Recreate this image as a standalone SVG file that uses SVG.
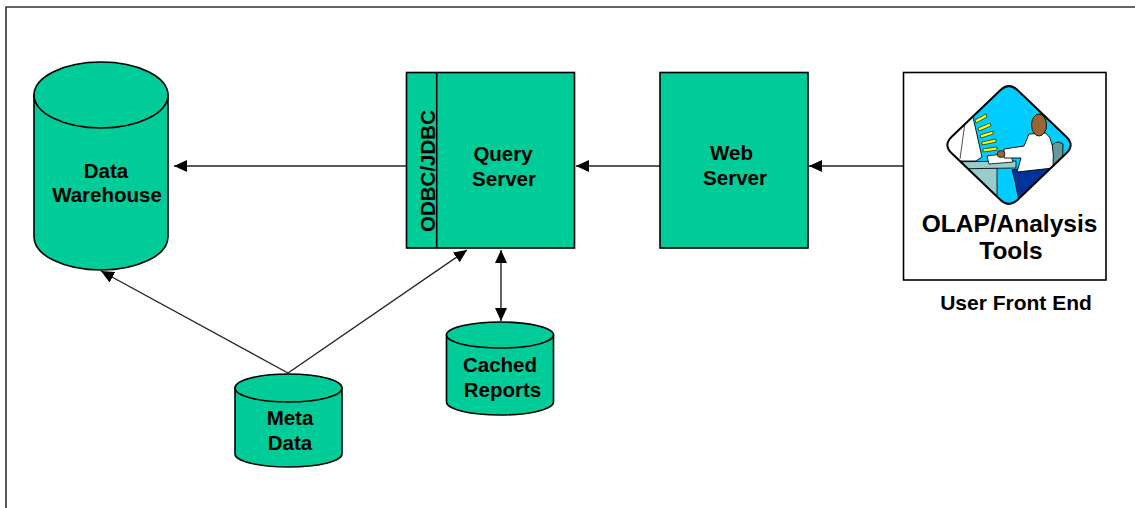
<svg xmlns="http://www.w3.org/2000/svg" width="1135" height="508" viewBox="0 0 1135 508">
  <style>
    .frame { fill: none; stroke: #333; stroke-width: 1.6; }
    .node { fill: #00CC99; stroke: #000; stroke-width: 1.6; }
    .box { fill: #fff; stroke: #000; stroke-width: 1.6; }
    .label { font-family: "Liberation Sans", Arial, Helvetica, sans-serif; font-weight: bold; font-size: 20.5px; fill: #000; text-anchor: middle; }
    .big { font-size: 24.5px; }
    .caption { font-size: 21px; }
    .conn { fill: none; stroke: #222; stroke-width: 1.4; }
    .ink { stroke: #000; stroke-width: 1; }
  </style>
  <defs>
    <marker id="arrow" markerUnits="userSpaceOnUse" markerWidth="14" markerHeight="12" refX="13" refY="6" orient="auto-start-reverse">
      <path d="M0,0 L13,6 L0,12 Z" fill="#000"/>
    </marker>
    <clipPath id="diamondClip">
      <path d="M1000.3,90.3 Q1009,82 1017.7,90.3 L1066.3,136.7 Q1075,145 1066.3,153.3 L1017.7,199.7 Q1009,208 1000.3,199.7 L951.7,153.3 Q943,145 951.7,136.7 Z"/>
    </clipPath>
  </defs>

  <!-- page frame (top and left edges) -->
  <path class="frame" d="M6,508 L6,7 L1135,7"/>

  <!-- connectors -->
  <g id="connectors">
    <line class="conn" x1="406" y1="166" x2="174" y2="166" marker-end="url(#arrow)"/>
    <line class="conn" x1="660" y1="166" x2="576" y2="166" marker-end="url(#arrow)"/>
    <line class="conn" x1="903" y1="166" x2="809" y2="166" marker-end="url(#arrow)"/>
    <line class="conn" x1="288" y1="373" x2="101" y2="271" marker-end="url(#arrow)"/>
    <line class="conn" x1="288" y1="373" x2="467" y2="250" marker-end="url(#arrow)"/>
    <line class="conn" x1="501" y1="250" x2="501" y2="321" marker-start="url(#arrow)" marker-end="url(#arrow)"/>
  </g>

  <!-- Data Warehouse -->
  <g id="data-warehouse">
    <path class="node" d="M34,95 L34,237 A67,33 0 0 0 168,237 L168,95 Z"/>
    <ellipse class="node" cx="101" cy="95" rx="67" ry="33"/>
    <text class="label" x="106" y="178">Data</text>
    <text class="label" x="107" y="202">Warehouse</text>
  </g>

  <!-- Query Server with ODBC/JDBC layer -->
  <g id="query-server">
    <rect class="node" x="406.5" y="72.5" width="168" height="175.5"/>
    <line class="ink" x1="436.7" y1="72.5" x2="436.7" y2="248" style="stroke-width:1.6"/>
    <text class="label" transform="translate(435,171) rotate(-90)" x="0" y="0">ODBC/JDBC</text>
    <text class="label" x="503" y="161">Query</text>
    <text class="label" x="504" y="186">Server</text>
  </g>

  <!-- Web Server -->
  <g id="web-server">
    <rect class="node" x="660" y="72.5" width="148" height="175.5"/>
    <text class="label" x="731.5" y="160">Web</text>
    <text class="label" x="735" y="185">Server</text>
  </g>

  <!-- OLAP / Analysis Tools (user front end) -->
  <g id="olap-tools">
    <rect class="box" x="903.5" y="72.5" width="202.5" height="207.5"/>
    <g id="olap-icon">
      <g clip-path="url(#diamondClip)">
        <rect x="940" y="80" width="140" height="130" fill="#00CCFF"/>
        <!-- desk -->
        <rect x="955" y="168" width="42" height="40" fill="#99CCCC" stroke="#000" stroke-width="0.8"/>
        <polygon points="944,162 1016,161 1016,168 946,169" fill="#99CCCC" stroke="#000" stroke-width="0.8"/>
        <!-- monitor -->
        <polygon points="942,150 966,115 973,117 982,157 976,161 946,161" fill="#fff" stroke="#000" stroke-width="0.9"/>
        <line x1="966" y1="115" x2="960" y2="159" stroke="#000" stroke-width="0.7"/>
        <!-- screen glow -->
        <g stroke="#000" stroke-width="0.6" fill="#FFFF00">
          <polygon points="975,120 986,114 987,117 976,123"/>
          <polygon points="978,128 990,123 991,126 979,131"/>
          <polygon points="980,135 993,131 993,134 981,138"/>
          <polygon points="982,142 996,139 996,142 982,145"/>
          <polygon points="983,149 997,147 997,150 983,152"/>
        </g>
        <!-- keyboard -->
        <polygon points="987,156 1010,153 1013,162 989,164" fill="#fff" stroke="#000" stroke-width="0.8"/>
        <!-- chair -->
        <path d="M1049,150 Q1055,138 1063,144 L1062,180 L1049,180 Z" fill="#669999" stroke="#000" stroke-width="0.8"/>
        <!-- legs -->
        <polygon points="1012,170 1051,163 1054,180 1031,186 1034,206 1020,206 1015,181" fill="#003399" stroke="#000" stroke-width="0.8"/>
        <!-- torso and arm -->
        <path d="M1029,134 L1046,133 Q1055,140 1053,168 L1017,172 L1021,158 L1004,158 L1004,149 L1024,146 Z" fill="#fff" stroke="#000" stroke-width="0.9"/>
        <!-- hand and head -->
        <ellipse cx="1001" cy="154" rx="4" ry="3.5" fill="#996633" stroke="#000" stroke-width="0.7"/>
        <ellipse cx="1039" cy="125" rx="7.5" ry="11" fill="#996633" stroke="#000" stroke-width="0.9"/>
      </g>
      <path d="M1000.3,90.3 Q1009,82 1017.7,90.3 L1066.3,136.7 Q1075,145 1066.3,153.3 L1017.7,199.7 Q1009,208 1000.3,199.7 L951.7,153.3 Q943,145 951.7,136.7 Z" fill="none" stroke="#000" stroke-width="2"/>
    </g>
    <text class="label big" x="1009.5" y="232">OLAP/Analysis</text>
    <text class="label big" x="1011" y="259">Tools</text>
    <text class="label caption" x="1016" y="310">User Front End</text>
  </g>

  <!-- Cached Reports -->
  <g id="cached-reports">
    <path class="node" d="M446.5,335 L446.5,402 A53.5,13 0 0 0 553.5,402 L553.5,335 Z"/>
    <ellipse class="node" cx="500" cy="335" rx="53.5" ry="13"/>
    <text class="label" x="500" y="372">Cached</text>
    <text class="label" x="502.5" y="397">Reports</text>
  </g>

  <!-- Meta Data -->
  <g id="meta-data">
    <path class="node" d="M235,388 L235,454 A53.5,13 0 0 0 342,454 L342,388 Z"/>
    <ellipse class="node" cx="288.5" cy="388" rx="53.5" ry="14"/>
    <text class="label" x="290" y="425">Meta</text>
    <text class="label" x="290" y="450">Data</text>
  </g>
</svg>
